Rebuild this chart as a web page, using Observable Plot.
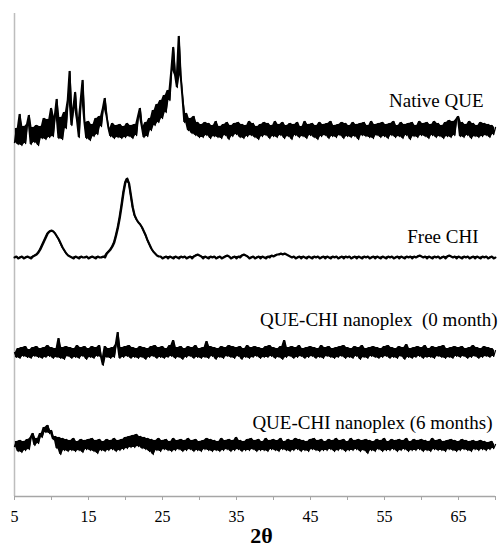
<!DOCTYPE html>
<html><head><meta charset="utf-8">
<script src="https://cdn.jsdelivr.net/npm/d3@7"></script>
<script src="https://cdn.jsdelivr.net/npm/@observablehq/plot@0.6"></script>
<style>html,body{margin:0;padding:0;background:#fff;} svg{display:block}</style>
</head><body><div id="chart"></div>
<script>
// Series names (labels on the chart)
const seriesNames = ["Native QUE", "Free CHI", "QUE-CHI nanoplex\u00a0 (0 month)", "QUE-CHI nanoplex (6 months)"];

// 2θ sampling grid: start and step (degrees)
const twoThetaStart = 5;
const twoThetaStep = 0.25;

// Intensities (arbitrary units, relative to each pattern's baseline), one value per 0.25°
const nativeQUE = [
  -12,2,-14,16,-15,4,-13,6,15,-14,3,-12,5,-15,4,
  -8,12,-9,11,-7,22,-6,14,31,-8,13,-9,18,2,
  30,59,5,22,38,10,-7,30,50,8,-8,
  9,-10,6,-6,12,-4,14,4,22,32,14,2,
  -6,7,-8,5,-7,6,-8,4,-7,7,-6,5,-8,6,-5,14,
  22,4,-7,8,-6,12,0,20,5,26,8,30,12,35,18,40,
  30,60,83,55,43,94,55,33,8,17,0,12,-3,14,-5,8,-7,
  6,-7,8,-5,7,-8,5,-6,9,-7,4,-8,6,-5,8,-9,5,-6,7,-4,
  8,-7,6,-8,5,-6,9,-5,7,-7,4,-9,6,-6,8,-5,7,-8,5,-6,
  9,-7,6,-5,8,-8,5,-6,7,-9,6,-5,8,-7,4,-6,9,-8,6,-5,
  7,-7,5,-9,8,-6,6,-5,7,-8,9,-6,5,-7,6,-5,8,-8,7,-6,
  5,-7,8,-6,6,-9,7,-5,8,-6,5,-7,9,-8,6,-5,7,-7,8,-6,
  6,-8,7,-5,9,-7,5,-6,8,-8,6,-5,7,-9,8,-6,5,-7,9,-5,
  7,-6,8,-8,6,-5,9,-7,7,-6,5,-8,8,-6,10,-7,9,-5,11,14,
  -6,8,-7,6,-5,9,-8,7,-6,5,-7,8,-6,7,-5,6,-7,5,-4,3
];
const freeCHI = [
  0,1,-1,0,1,-1,0,1,0,-1,1,
  2,3,5,8,12,16,20,24,26,27,26,24,21,18,14,10,7,4,2,1,
  0,-1,1,0,-1,1,0,0,1,-1,0,1,0,-1,1,0,0,1,0,
  4,6,8,11,15,22,30,40,52,65,75,79,74,62,50,42,38,35,33,30,26,22,17,13,9,6,4,2,1,
  1,-1,0,1,-1,1,0,-1,1,0,-1,1,0,1,-1,0,1,-1,1,2,3,2,
  1,-1,1,0,-1,1,0,1,-1,0,1,-1,0,1,2,1,-1,0,1,-1,
  1,0,2,3,2,1,-1,0,1,-1,0,1,-1,1,0,-1,1,0,2,1,
  2,3,3,4,3,4,3,2,1,0,1,-1,0,1,-1,1,0,-1,1,0,
  -1,1,0,1,-1,0,1,-1,1,0,-1,1,0,1,-1,0,1,-1,1,0,
  1,-1,0,1,-1,1,0,-1,1,0,1,-1,0,1,-1,1,0,-1,1,0,
  -1,1,0,1,-1,0,1,-1,1,0,-1,1,0,1,-1,1,0,1,2,1,
  0,1,-1,1,0,-1,1,0,1,-1,0,1,-1,1,2,1,0,1,-1,1,
  0,-1,1,0,1,-1,0,1,-1,1,0,-1,1,0,1,-1,0,1,-1,0
];
const nanoplex0 = [
  0,-5,4,-6,5,-4,6,-5,3,-6,5,-4,6,-5,4,-6,5,-5,7,-4,
  5,-6,4,-5,14,-6,5,-7,6,-4,5,-6,4,-5,7,-6,5,-4,6,-7,
  4,-5,6,-6,5,-4,7,-5,-13,6,-5,4,-6,5,-5,8,20,-6,5,-5,
  6,-4,7,-6,5,-5,4,-6,6,-5,5,-7,4,-5,6,-4,7,-6,5,-5,
  6,-6,4,-5,7,-4,12,-6,5,-5,6,-7,4,-5,6,-4,5,-6,7,-5,
  4,-6,5,-5,11,-6,6,-4,5,-7,4,-5,6,-6,5,-4,7,-5,6,-6,
  5,-4,6,-7,4,-5,7,-6,5,-5,6,-4,5,-6,4,-5,6,-5,7,-4,
  5,-6,4,-5,6,-7,12,-5,5,-4,6,-6,5,-5,7,-4,4,-6,5,-5,
  6,-4,5,-6,4,-5,7,-6,5,-4,6,-5,4,-6,5,-5,6,-4,7,-6,
  5,-5,4,-6,6,-4,5,-7,7,-5,4,-6,5,-4,6,-5,5,-6,4,-5,
  6,-4,7,-6,5,-5,4,-6,6,-4,5,-7,8,-5,4,-6,5,-5,6,-4,
  5,-6,7,-5,4,-5,6,-6,5,-4,6,-5,7,-6,4,-5,5,-6,6,-4,
  5,-5,6,-4,4,-6,5,-5,7,-4,5,-6,4,-5,6,-4,5,-5,4,-4,2
];
const nanoplex6 = [
  -1,4,-6,5,-7,4,-5,6,-4,8,12,0,7,2,12,8,18,13,20,12,15,6,9,-3,8,-9,7,-5,6,-6,
  5,-5,7,-6,4,-5,6,-7,5,-4,6,-5,7,-6,5,-8,6,-5,4,-6,
  6,-5,5,-4,7,-6,5,-5,6,-4,8,-3,9,-2,10,-2,11,-1,9,-3,
  8,-4,7,-6,6,-9,5,-5,7,-6,5,-4,6,-5,4,-6,7,-5,5,-4,
  6,-6,5,-5,7,-4,5,-6,6,-5,4,-6,5,-4,7,-5,6,-6,5,-5,
  4,-6,7,-5,5,-4,6,-6,5,-5,8,-4,5,-6,4,-5,6,-5,7,-4,
  5,-6,6,-5,4,-5,7,-6,5,-4,6,-5,5,-6,7,-4,4,-5,6,-6,
  5,-5,7,-4,6,-6,5,-5,4,-6,6,-4,7,-5,5,-6,6,-5,4,-5,
  6,-4,5,-6,7,-5,5,-4,6,-6,4,-5,7,-5,5,-4,6,-6,5,-5,
  6,-8,5,-5,4,-6,6,-4,5,-6,7,-5,4,-5,6,-4,5,-6,6,-5,
  5,-4,7,-6,4,-5,6,-5,5,-4,6,-6,5,-5,4,-6,7,-4,5,-5,
  6,-5,4,-6,5,-4,6,-5,5,-6,4,-5,6,-4,5,-5,4,-6,5,-4,
  4,-5,5,-4,4,-5,3,-4,4,-3,1
];

// Vertical offsets used to stack the patterns (same arbitrary units)
const offsets = [366, 239, 144, 51];

// x-axis ticks and labels
const xTicks = [5, 10, 15, 20, 25, 30, 35, 40, 45, 50, 55, 60, 65, 70];
const xTickLabels = ["5", "15", "25", "35", "45", "55", "65"];
const xAxisLabel = "2θ";

// ---- presentation ----
const lineWidths = [1.3, 2.0, 1.2, 1.3];
const labelDx = [-12, -17, 2, -3];
const labelDy = [-24, -15, -27, -17];

const allSeries = [nativeQUE, freeCHI, nanoplex0, nanoplex6];
const rowsBySeries = allSeries.map((arr, s) =>
  arr.map((v, i) => ({x: twoThetaStart + i * twoThetaStep, y: offsets[s] + v}))
);
// noise band: the span covered by each pair of neighbouring samples
const bandsBySeries = allSeries.map((arr, s) =>
  arr.slice(1).map((v, i) => ({
    x: twoThetaStart + (i + 0.5) * twoThetaStep,
    lo: offsets[s] + Math.min(arr[i], v),
    hi: offsets[s] + Math.max(arr[i], v)
  }))
);

const marks = [
  Plot.ruleX([5], {stroke: "#bdbdbd", strokeWidth: 1.5}),
  Plot.ruleY([0], {stroke: "#a6a6a6", strokeWidth: 1.5}),
  Plot.axisX({
    ticks: xTicks, tickSize: 4, tickPadding: 10,
    tickFormat: d => (xTickLabels.includes(String(d)) ? String(d) : ""),
    fontSize: 16, stroke: "#a6a6a6", fill: "black", label: null
  }),
  Plot.text([xAxisLabel], {frameAnchor: "bottom", dy: 46, dx: 6.5, lineAnchor: "bottom", fontSize: 22, fontWeight: "bold", fill: "black"})
];
rowsBySeries.forEach((rows, s) => {
  marks.push(Plot.areaY(bandsBySeries[s], {x: "x", y1: "lo", y2: "hi", fill: "black"}));
  marks.push(Plot.line(rows, {x: "x", y: "y", stroke: "black", strokeWidth: lineWidths[s]}));
  marks.push(Plot.text([seriesNames[s]], {
    x: () => 70, y: () => offsets[s], text: d => d,
    textAnchor: "end", lineAnchor: "bottom", dx: labelDx[s], dy: labelDy[s],
    fontSize: 19, fill: "black"
  }));
});

const chart = Plot.plot({
  width: 502, height: 547,
  marginLeft: 14, marginRight: 7, marginTop: 13, marginBottom: 51,
  x: {domain: [5, 70]},
  y: {domain: [0, 483], axis: null},
  style: {fontFamily: "'Liberation Serif', 'Times New Roman', serif", background: "white", color: "black"},
  marks
});
document.getElementById("chart").appendChild(chart);
</script>
</body></html>
